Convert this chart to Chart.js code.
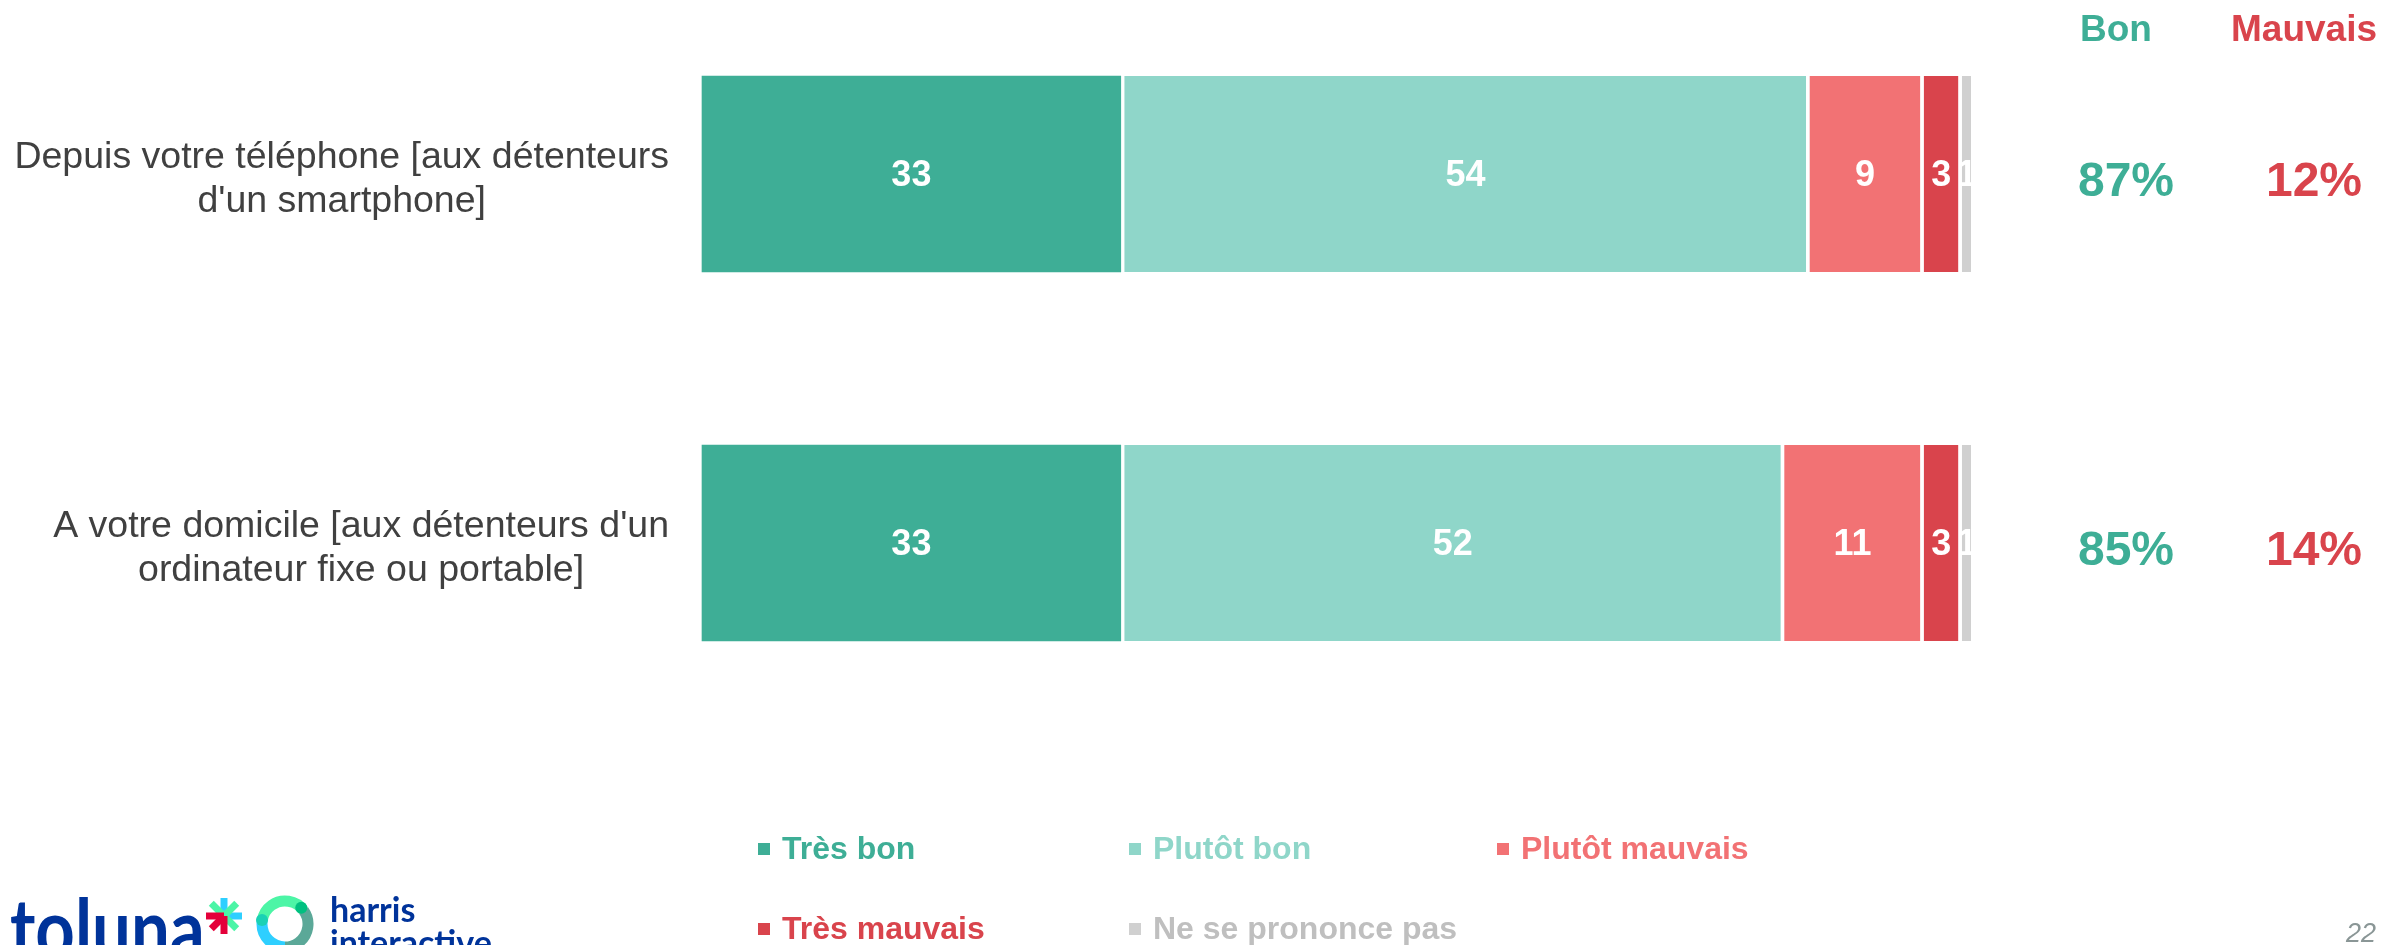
<!DOCTYPE html>
<html>
<head>
<meta charset="utf-8">
<script src="https://cdn.jsdelivr.net/npm/chart.js@4/dist/chart.umd.min.js"></script>
<style>
  html, body { margin: 0; padding: 0; background: #fff; overflow: hidden; }
  #wrap { position: relative; width: 2405px; height: 945px; }
</style>
</head>
<body>
<div id="wrap"><canvas id="chart" width="2405" height="945"></canvas></div>
<script>
// données du graphique
const categories = [
    ["Depuis votre téléphone [aux détenteurs", "d'un smartphone]"],
    ["A votre domicile [aux détenteurs d'un", "ordinateur fixe ou portable]"]
];
const seriesNames = ["Très bon", "Plutôt bon", "Plutôt mauvais", "Très mauvais", "Ne se prononce pas"];
const tresBon = [33, 33];
const plutotBon = [54, 52];
const plutotMauvais = [9, 11];
const tresMauvais = [3, 3];
const nsp = [1, 1];
const totalBon = [87, 85];
const totalMauvais = [12, 14];
const summaryHeads = ["Bon", "Mauvais"];
const pageNumber = "22";

const colors = ['#3EAE96', '#8FD6C9', '#F27274', '#D9444C', '#D0D0D0'];
const legendTextColors = ['#3EAE96', '#8FD6C9', '#F27274', '#D9444C', '#BFBFBF'];
const FONT = '"Liberation Sans", Arial, sans-serif';

const allSeries = [tresBon, plutotBon, plutotMauvais, tresMauvais, nsp];

const datasets = allSeries.map((values, i) => ({
    label: seriesNames[i],
    data: values,
    backgroundColor: colors[i],
    borderColor: '#ffffff',
    borderWidth: { left: i === 0 ? 0 : 4, right: 0, top: 0, bottom: 0 },
    borderSkipped: false,
    barThickness: 196,
    clip: false
}));

function drawLogo(ctx) {
    // toluna
    ctx.save();
    ctx.textAlign = 'left';
    ctx.textBaseline = 'alphabetic';
    ctx.fillStyle = '#00339A';
    ctx.font = 'bold 82px Lato, ' + FONT;
    ctx.translate(10, 958);
    ctx.scale(0.84, 1);
    ctx.fillText('toluna', 0, 0);
    ctx.restore();

    // astérisque
    ctx.save();
    const ax = 224, ay = 916, r = 18;
    ctx.lineWidth = 7;
    const arm = (ang, c) => {
        ctx.strokeStyle = c;
        ctx.beginPath();
        ctx.moveTo(ax, ay);
        ctx.lineTo(ax + r * Math.cos(ang), ay + r * Math.sin(ang));
        ctx.stroke();
    };
    arm(-Math.PI / 2, '#2ECFFF');
    arm(0, '#2ECFFF');
    arm(-Math.PI / 4, '#4CF5A6');
    arm(-3 * Math.PI / 4, '#4CF5A6');
    arm(Math.PI / 4, '#4CF5A6');
    arm(Math.PI, '#E4003A');
    arm(Math.PI / 2, '#E4003A');
    arm(3 * Math.PI / 4, '#E4003A');
    ctx.restore();

    // anneau
    ctx.save();
    const rx = 285, ry = 924, rr = 23;
    ctx.lineWidth = 11;
    ctx.strokeStyle = '#4CF5A6';
    ctx.beginPath(); ctx.arc(rx, ry, rr, Math.PI * 1.05, Math.PI * 1.8); ctx.stroke();
    ctx.strokeStyle = '#5BA898';
    ctx.beginPath(); ctx.arc(rx, ry, rr, Math.PI * 1.8, Math.PI * 2.5); ctx.stroke();
    ctx.strokeStyle = '#2ECFFF';
    ctx.beginPath(); ctx.arc(rx, ry, rr, Math.PI * 0.5, Math.PI * 1.05); ctx.stroke();
    ctx.fillStyle = '#00C080';
    ctx.beginPath(); ctx.arc(rx + rr * Math.cos(-Math.PI / 4), ry + rr * Math.sin(-Math.PI / 4), 6, 0, Math.PI * 2); ctx.fill();
    ctx.fillStyle = '#1AD1B4';
    ctx.beginPath(); ctx.arc(rx - rr, ry - 4, 6, 0, Math.PI * 2); ctx.fill();

    ctx.fillStyle = '#00339A';
    ctx.textAlign = 'left';
    ctx.textBaseline = 'alphabetic';
    ctx.font = 'bold 34px Lato, ' + FONT;
    ctx.fillText('harris', 330, 922);
    ctx.fillText('interactive', 330, 955);
    ctx.restore();
}

const overlay = {
    id: 'overlay',
    afterDatasetsDraw(chart) {
        const ctx = chart.ctx;
        const yScale = chart.scales.y;
        ctx.save();

        // valeurs dans les barres
        ctx.font = 'bold 36px ' + FONT;
        ctx.fillStyle = '#ffffff';
        ctx.textAlign = 'center';
        ctx.textBaseline = 'middle';
        chart.data.datasets.forEach((ds, di) => {
            chart.getDatasetMeta(di).data.forEach((bar, j) => {
                const left = Math.min(bar.x, bar.base) + (di === 0 ? 0 : 4);
                const right = Math.max(bar.x, bar.base);
                ctx.fillText(String(ds.data[j]), (left + right) / 2, bar.y + 2);
            });
        });

        // libellés des catégories
        ctx.font = '37.5px ' + FONT;
        ctx.fillStyle = '#404040';
        categories.forEach((lines, i) => {
            const y = yScale.getPixelForValue(i) + 6;
            const widest = Math.max(...lines.map(l => ctx.measureText(l).width));
            const cx = 669 - widest / 2;
            lines.forEach((l, k) => {
                ctx.fillText(l, cx, y + (k - (lines.length - 1) / 2) * 44);
            });
        });

        // colonnes Bon / Mauvais
        const headX = [2116, 2304];
        const pctX = [2126, 2314];
        const colColor = ['#3EAE96', '#D9444C'];
        ctx.font = 'bold 37px ' + FONT;
        summaryHeads.forEach((h, k) => {
            ctx.fillStyle = colColor[k];
            ctx.fillText(h, headX[k], 31);
        });
        ctx.font = 'bold 48px ' + FONT;
        categories.forEach((c, i) => {
            const y = yScale.getPixelForValue(i) + 9;
            ctx.fillStyle = colColor[0];
            ctx.fillText(totalBon[i] + '%', pctX[0], y);
            ctx.fillStyle = colColor[1];
            ctx.fillText(totalMauvais[i] + '%', pctX[1], y);
        });

        // légende
        const legX = [764, 1135, 1503];
        const legY = [849, 929];
        ctx.font = 'bold 32px ' + FONT;
        ctx.textAlign = 'left';
        seriesNames.forEach((name, i) => {
            const x = legX[i % 3];
            const y = legY[Math.floor(i / 3)];
            ctx.fillStyle = colors[i];
            ctx.fillRect(x - 6, y - 6, 12, 12);
            ctx.fillStyle = legendTextColors[i];
            ctx.fillText(name, x + 18, y + 1);
        });

        // numéro de page
        ctx.font = 'italic 27px ' + FONT;
        ctx.fillStyle = '#8A9696';
        ctx.textAlign = 'center';
        ctx.fillText(pageNumber, 2361, 934);

        ctx.restore();
        drawLogo(ctx);
    }
};

new Chart(document.getElementById('chart'), {
    type: 'bar',
    data: { labels: categories, datasets: datasets },
    options: {
        indexAxis: 'y',
        responsive: false,
        animation: false,
        layout: { padding: { left: 702, right: 434, top: 174, bottom: 402 } },
        scales: {
            x: { stacked: true, min: 0, max: 100, display: false },
            y: { stacked: true, display: false, offset: false }
        },
        plugins: {
            legend: { display: false },
            tooltip: { enabled: false }
        }
    },
    plugins: [overlay]
});
</script>
</body>
</html>
